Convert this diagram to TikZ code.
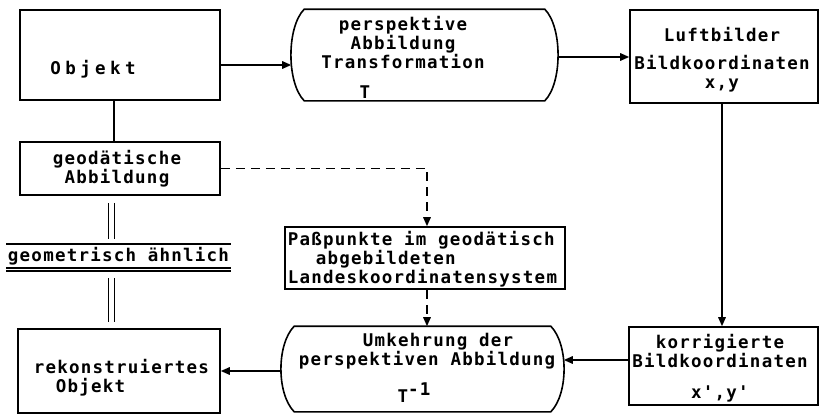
\documentclass[tikz,border=0pt]{standalone}
\usepackage{fontspec}
\newfontfamily\tw[LetterSpace=7,Ligatures=TeXOff]{DejaVu Sans Mono Bold}
\usetikzlibrary{arrows.meta}
% outline with outward-bulging short sides, drawn round an invisible node
\newcommand\bulgeoutline[2]{%
  \draw ([xshift=#2]#1.north west) -- ([xshift=-#2]#1.north east)
    .. controls ([xshift=4.7pt,yshift=-18pt]#1.north east)
       and ([xshift=4.7pt,yshift=18pt]#1.south east) .. ([xshift=-#2]#1.south east)
    -- ([xshift=#2]#1.south west)
    .. controls ([xshift=-4.7pt,yshift=18pt]#1.south west)
       and ([xshift=-4.7pt,yshift=-18pt]#1.north west) .. cycle;}
\begin{document}
\begin{tikzpicture}[x=1pt,y=-1pt,line width=1.6pt,
  box/.style={draw,rectangle,inner sep=0pt},
  ghost/.style={rectangle,inner sep=0pt},
  txt/.style={font=\tw\fontsize{17.5}{19}\selectfont,align=center,inner sep=0pt},
  arr/.style={-{Triangle[length=9pt,width=7.5pt]}},
  dashline/.style={dash pattern=on 9pt off 6pt},
  eq/.style={double,double distance=4.5pt,line width=1.2pt}]
\useasboundingbox (0,0) rectangle (820,418);

% boxes
\node[box,minimum width=200pt,minimum height=90pt] (objekt) at (120,55) {};
\node[box,minimum width=188pt,minimum height=93pt] (luft) at (724,56.5) {};
\node[box,minimum width=200pt,minimum height=53pt] (geo) at (120,168.5) {};
\node[box,minimum width=280pt,minimum height=62pt] (pass) at (425,258) {};
\node[box,minimum width=189pt,minimum height=78pt] (korr) at (723.5,366) {};
\node[box,minimum width=202pt,minimum height=84pt] (rekon) at (119,371) {};
\node[ghost,minimum width=265pt,minimum height=90pt] (persp) at (424.5,55) {};
\node[ghost,minimum width=281pt,minimum height=84pt] (umk) at (422.5,369) {};
\bulgeoutline{persp}{13pt}
\bulgeoutline{umk}{13pt}

% texts
\node[txt] (objekt-t) at (93,69) {\addfontfeature{LetterSpace=25}Objekt};
\node[txt] (persp-t) at (403,57) {perspektive\\Abbildung\\Transformation\\[11pt]T\hspace*{76pt}};
\node[txt] (luft-t) at (722,60) {Luftbilder\\[9pt]Bildkoordinaten\\x,y};
\node[txt] (geo-t) at (117,169) {geodätische\\Abbildung};
\node[txt,align=left,anchor=west] (pass-t) at (287,259) {Paßpunkte im geodätisch\\\hspace*{1.6em}abgebildeten\\Landeskoordinatensystem};
\node[txt] (umk-t) at (427,368) {\hspace*{22pt}Umkehrung der\\perspektiven Abbildung\\[12pt]T\raisebox{7pt}{-1}\hspace*{26pt}};
\node[txt] (korr-t) at (720,368) {korrigierte\\Bildkoordinaten\\[12pt]x',y'};
\node[txt,align=left,anchor=west] (rekon-t) at (33,378) {rekonstruiertes\\\hspace*{22pt}Objekt};

% "geometrisch ähnlich" between rules
\node[txt,minimum width=223pt,minimum height=22pt] (gs) at (118.5,256) {geometrisch ähnlich};
\draw (gs.north west) -- (gs.north east);
\draw (gs.south west) -- (gs.south east);
\draw ([yshift=-3pt]gs.south west) -- ([yshift=-3pt]gs.south east);
\draw[eq] ([xshift=-8.5pt,yshift=-7pt]geo.south) -- ([xshift=-7pt,yshift=5pt]gs.north);
\draw[eq] ([xshift=-7pt,yshift=-10pt]gs.south) -- ([xshift=-7.5pt,yshift=6pt]rekon.north);

% connectors
\draw[arr] ([yshift=-10pt]objekt.east) -- ([yshift=-10pt]objekt.east -| persp.west);
\draw[arr] ([yshift=-2pt]persp.east) -- ([yshift=-2pt]persp.east -| luft.west);
\draw[arr] ([xshift=-2pt]luft.south) -- ([xshift=-2pt]luft.south |- korr.north);
\draw[arr] ([yshift=6pt]korr.west) -- ([yshift=6pt]korr.west -| umk.east);
\draw[arr] ([yshift=-2pt]umk.west) -- ([yshift=-2pt]umk.west -| rekon.east);
\draw ([xshift=-6pt]objekt.south) -- ([xshift=-6pt]objekt.south |- geo.north);
\draw[arr,dashline] (geo.east) -| ([xshift=2pt]pass.north);
\draw[arr,dashline] ([xshift=2pt]pass.south) -- ([xshift=2pt]pass.south |- umk.north);
\end{tikzpicture}
\end{document}
